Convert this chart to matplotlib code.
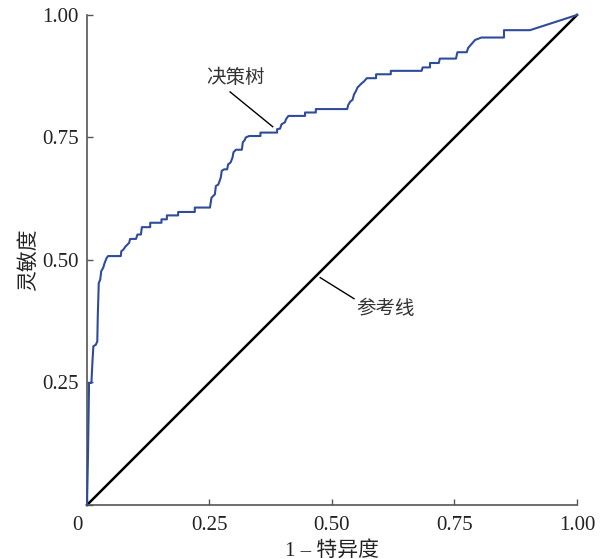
import matplotlib
matplotlib.use("Agg")
import matplotlib.pyplot as plt
import matplotlib.transforms as mtransforms

plt.rcParams["font.family"] = ["Liberation Serif", "Noto Sans CJK SC"]

# ROC 曲线（决策树），从图上读出的拐点
fpr = [0.0, 0.002, 0.004, 0.004, 0.009, 0.011, 0.013, 0.018, 0.021, 0.022,
       0.024, 0.027, 0.029, 0.033, 0.036, 0.040, 0.043, 0.069, 0.070, 0.074,
       0.079, 0.086, 0.088, 0.100, 0.103, 0.110, 0.112, 0.129, 0.129, 0.152,
       0.152, 0.163, 0.163, 0.186, 0.186, 0.220, 0.220, 0.251, 0.254, 0.261,
       0.263, 0.268, 0.273, 0.275, 0.280, 0.286, 0.288, 0.293, 0.297, 0.299,
       0.304, 0.316, 0.318, 0.322, 0.324, 0.331, 0.354, 0.354, 0.388, 0.388,
       0.394, 0.397, 0.404, 0.406, 0.411, 0.445, 0.445, 0.467, 0.467, 0.531,
       0.533, 0.537, 0.542, 0.545, 0.549, 0.552, 0.557, 0.561, 0.565, 0.571,
       0.590, 0.590, 0.620, 0.620, 0.683, 0.685, 0.700, 0.700, 0.718, 0.720,
       0.753, 0.756, 0.775, 0.778, 0.785, 0.792, 0.805, 0.851, 0.851, 0.904,
       1.0]
tpr = [0.0, 0.10, 0.235, 0.249, 0.249, 0.290, 0.324, 0.327, 0.334, 0.385,
       0.453, 0.460, 0.477, 0.484, 0.494, 0.504, 0.508, 0.508, 0.518, 0.521,
       0.528, 0.535, 0.543, 0.543, 0.552, 0.552, 0.567, 0.567, 0.576, 0.576,
       0.583, 0.583, 0.591, 0.591, 0.598, 0.598, 0.607, 0.607, 0.627, 0.634,
       0.651, 0.654, 0.668, 0.682, 0.685, 0.685, 0.695, 0.699, 0.709, 0.720,
       0.725, 0.725, 0.740, 0.745, 0.750, 0.753, 0.753, 0.760, 0.760, 0.767,
       0.768, 0.777, 0.781, 0.787, 0.794, 0.794, 0.801, 0.801, 0.808, 0.808,
       0.816, 0.823, 0.827, 0.838, 0.845, 0.852, 0.857, 0.861, 0.864, 0.871,
       0.871, 0.879, 0.879, 0.886, 0.886, 0.893, 0.893, 0.902, 0.902, 0.911,
       0.911, 0.924, 0.924, 0.933, 0.941, 0.949, 0.954, 0.954, 0.969, 0.969,
       1.0]

ref = [0.0, 1.0]
ticks = [0, 0.25, 0.50, 0.75, 1.00]
xtick_labels = ["0", "0.25", "0.50", "0.75", "1.00"]
ytick_labels = ["", "0.25", "0.50", "0.75", "1.00"]

fig = plt.figure(figsize=(6.05, 5.59), dpi=100)
ax = fig.add_axes([0.1438, 0.0966, 0.8099, 0.8766])

ax.plot(ref, ref, color="black", lw=1.8, clip_on=False, zorder=2)
ax.plot(fpr, tpr, color="#2f4c9c", lw=1.5, clip_on=False, zorder=3)

ax.set_xlim(0, 1)
ax.set_ylim(0, 1)
ax.set_xticks(ticks)
ax.set_xticklabels(xtick_labels)
ax.set_yticks(ticks)
ax.set_yticklabels(ytick_labels)

for side in ["top", "right"]:
    ax.spines[side].set_visible(False)
for side in ["left", "bottom"]:
    ax.spines[side].set_color("#555555")
    ax.spines[side].set_linewidth(1.2)
ax.tick_params(direction="in", length=4, width=1, color="#555555",
               labelsize=15, labelcolor="#222222")
ax.tick_params(axis="x", pad=8)
ax.tick_params(axis="y", pad=6)

# "0" 在原图里略偏左
zero = ax.get_xticklabels()[0]
zero.set_transform(zero.get_transform()
                   + mtransforms.ScaledTranslation(-0.1, 0, fig.dpi_scale_trans))

ax.set_xlabel("1 – 特异度", fontsize=15, color="#222222", labelpad=4)
ax.set_ylabel("灵敏度", fontsize=15, color="#222222", labelpad=2)

# 标注
ax.text(0.302, 0.871, "决策树", fontsize=14, color="#333333",
        ha="center", va="center")
ax.plot([0.292, 0.379], [0.843, 0.772], color="black", lw=1)
ax.text(0.610, 0.401, "参考线", fontsize=14, color="#333333",
        ha="center", va="center")
ax.plot([0.545, 0.476], [0.421, 0.464], color="black", lw=1)

fig.savefig("out.png", dpi=100)
